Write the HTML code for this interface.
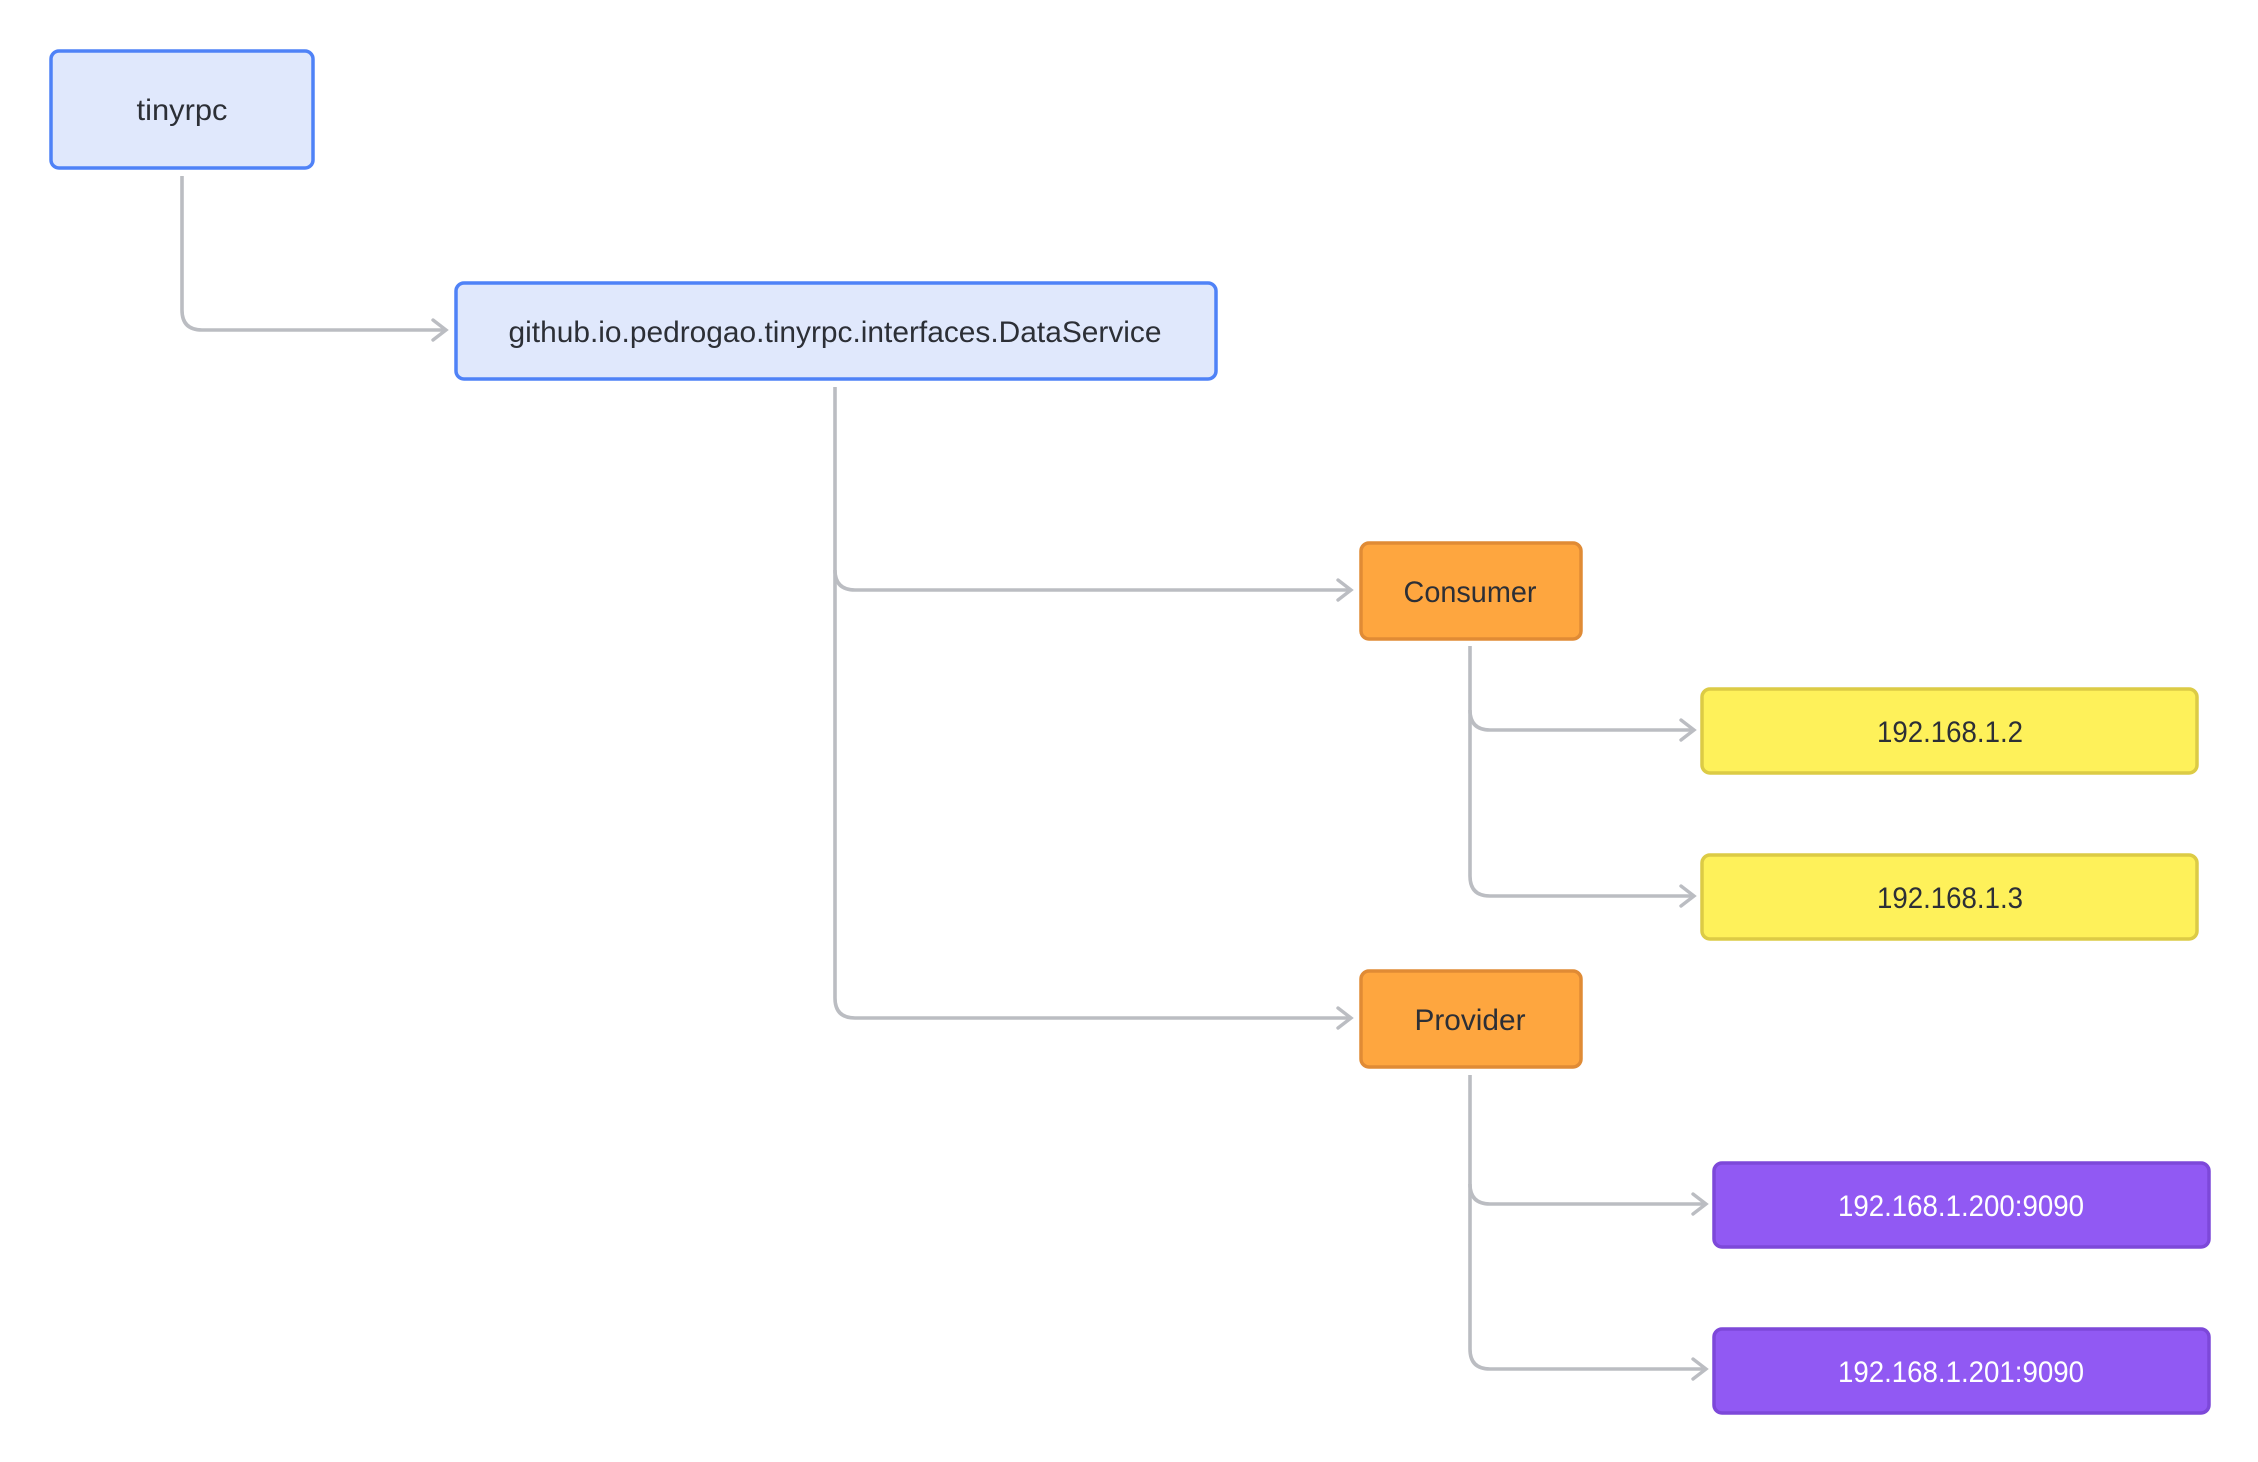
<!DOCTYPE html>
<html><head><meta charset="utf-8"><style>html,body{margin:0;padding:0;background:#fff}svg{display:block}</style></head><body>
<svg width="2258" height="1462" viewBox="0 0 2258 1462" xmlns="http://www.w3.org/2000/svg" font-family="Liberation Sans, sans-serif">
<defs><marker id="a" viewBox="0 0 24 24" refX="21" refY="12" markerWidth="24" markerHeight="24" markerUnits="userSpaceOnUse" orient="auto"><path d="M8 2 L21 12 L8 22" fill="none" stroke="#bbbdc2" stroke-width="3.4" stroke-linecap="round"/></marker></defs>
<g fill="none" stroke="#bbbdc2" stroke-width="3.6">
<path d="M182 176 V310 Q182 330 202 330 H446" marker-end="url(#a)"/>
<path d="M835 387 V570 Q835 590 855 590 H1351" marker-end="url(#a)"/>
<path d="M835 570 V998 Q835 1018 855 1018 H1351" marker-end="url(#a)"/>
<path d="M1470 646 V710 Q1470 730 1490 730 H1694" marker-end="url(#a)"/>
<path d="M1470 710 V876 Q1470 896 1490 896 H1694" marker-end="url(#a)"/>
<path d="M1470 1075 V1184 Q1470 1204 1490 1204 H1706" marker-end="url(#a)"/>
<path d="M1470 1184 V1349 Q1470 1369 1490 1369 H1706" marker-end="url(#a)"/>
</g>
<g stroke-width="3.5">
<rect x="51" y="51" width="262" height="117" rx="8" fill="#e0e8fc" stroke="#4f82f7"/>
<rect x="456" y="283" width="760" height="96" rx="8" fill="#e0e8fc" stroke="#4f82f7"/>
<rect x="1361" y="543" width="220" height="96" rx="8" fill="#fea63f" stroke="#e08b35"/>
<rect x="1361" y="971" width="220" height="96" rx="8" fill="#fea63f" stroke="#e08b35"/>
<rect x="1702" y="689" width="495" height="84" rx="8" fill="#fef15a" stroke="#dccb45"/>
<rect x="1702" y="855" width="495" height="84" rx="8" fill="#fef15a" stroke="#dccb45"/>
<rect x="1714" y="1163" width="495" height="84" rx="8" fill="#9159f3" stroke="#7d48d9"/>
<rect x="1714" y="1329" width="495" height="84" rx="8" fill="#9159f3" stroke="#7d48d9"/>
</g>
<g font-size="30" fill="#2c2f36" text-anchor="middle">
<text x="182" y="120" textLength="91" lengthAdjust="spacingAndGlyphs">tinyrpc</text>
<text x="835" y="342" textLength="653" lengthAdjust="spacingAndGlyphs">github.io.pedrogao.tinyrpc.interfaces.DataService</text>
<text x="1470" y="602" textLength="133" lengthAdjust="spacingAndGlyphs">Consumer</text>
<text x="1470" y="1030" textLength="111" lengthAdjust="spacingAndGlyphs">Provider</text>
<text x="1950" y="742" textLength="146" lengthAdjust="spacingAndGlyphs">192.168.1.2</text>
<text x="1950" y="908" textLength="146" lengthAdjust="spacingAndGlyphs">192.168.1.3</text>
<text x="1961" y="1216" fill="#fff" textLength="246" lengthAdjust="spacingAndGlyphs">192.168.1.200:9090</text>
<text x="1961" y="1382" fill="#fff" textLength="246" lengthAdjust="spacingAndGlyphs">192.168.1.201:9090</text>
</g>
</svg>
</body></html>
